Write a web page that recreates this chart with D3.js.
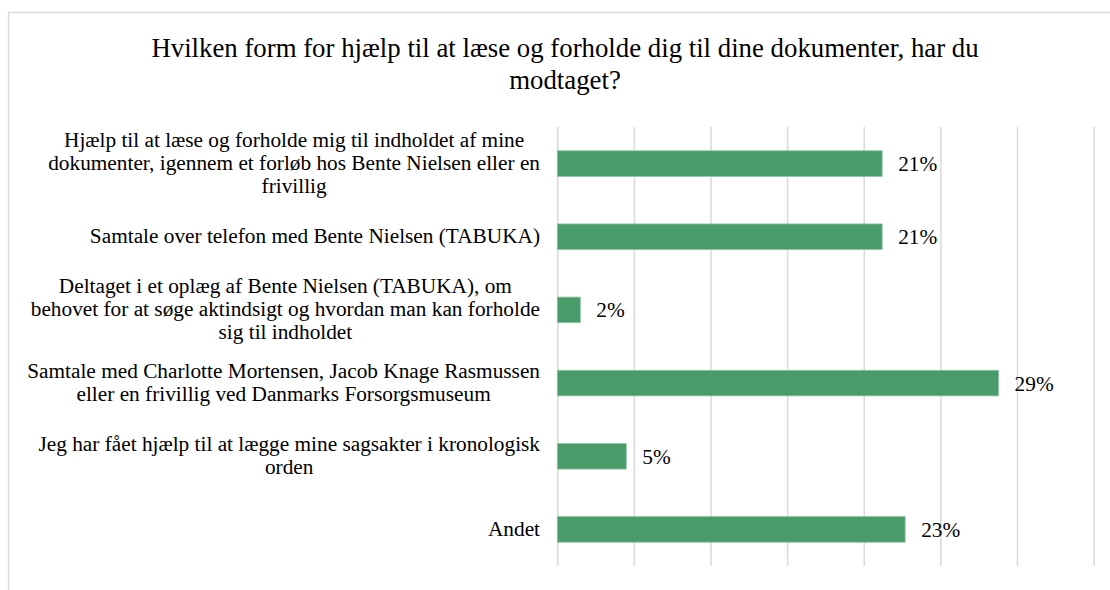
<!DOCTYPE html>
<html>
<head>
<meta charset="utf-8">
<script src="https://cdn.jsdelivr.net/npm/d3@7"></script>
<style>
  body { margin: 0; background: #fff; }
</style>
</head>
<body>
<div id="chart"></div>
<script>
// data
var titleLines = ['Hvilken form for hjælp til at læse og forholde dig til dine dokumenter, har du', 'modtaget?'];

var categories = [
  ['Hjælp til at læse og forholde mig til indholdet af mine', 'dokumenter, igennem et forløb hos Bente Nielsen eller en', 'frivillig'],
  ['Samtale over telefon med Bente Nielsen (TABUKA)'],
  ['Deltaget i et oplæg af Bente Nielsen (TABUKA), om', 'behovet for at søge aktindsigt og hvordan man kan forholde', 'sig til indholdet'],
  ['Samtale med Charlotte Mortensen, Jacob Knage Rasmussen', 'eller en frivillig ved Danmarks Forsorgsmuseum'],
  ['Jeg har fået hjælp til at lægge mine sagsakter i kronologisk', 'orden'],
  ['Andet']
];

var values = [21.2, 21.2, 1.5, 28.8, 4.5, 22.7];

var xTicks = [0, 5, 10, 15, 20, 25, 30, 35];

// layout
var attrs = {
  svgWidth: 1110,
  svgHeight: 590,
  plotLeft: 557.3,
  plotRight: 1093.6,
  plotTop: 127,
  plotBottom: 566,
  labelRight: 540,
  barColor: '#4a9b6a',
  gridColor: '#d9d9d9',
  fontFamily: '"Liberation Serif", "Times New Roman", serif',
  titleSize: 26.8,
  fontSize: 21.3,
  lineHeight: 23
};

var svg = d3.select('#chart').append('svg')
  .attr('width', attrs.svgWidth)
  .attr('height', attrs.svgHeight);

// chart area border (only top and left edges visible)
svg.append('rect')
  .attr('x', 8.5).attr('y', 12.5)
  .attr('width', 1200).attr('height', 700)
  .attr('fill', 'none')
  .attr('stroke', attrs.gridColor)
  .attr('stroke-width', 1.3);

// scales
var x = d3.scaleLinear()
  .domain([0, 35])
  .range([attrs.plotLeft, attrs.plotRight]);

var y = d3.scaleBand()
  .domain(d3.range(categories.length))
  .range([attrs.plotTop, attrs.plotBottom])
  .paddingInner(0.65)
  .paddingOuter(0.325);

// gridlines
var axisBottom = d3.axisBottom(x)
  .tickValues(xTicks)
  .tickSize(-(attrs.plotBottom - attrs.plotTop))
  .tickFormat('');

var grid = svg.append('g')
  .attr('transform', 'translate(0,' + attrs.plotBottom + ')')
  .call(axisBottom);
grid.select('.domain').remove();
grid.selectAll('.tick line')
  .attr('stroke', attrs.gridColor)
  .attr('stroke-width', 1.5);

// title
svg.append('text')
  .attr('text-anchor', 'middle')
  .style('font-family', attrs.fontFamily)
  .style('font-size', attrs.titleSize + 'px')
  .selectAll('tspan')
  .data(titleLines)
  .enter().append('tspan')
  .attr('x', 565)
  .attr('y', function (d, i) { return 57 + i * 32; })
  .text(function (d) { return d; });

// bars
svg.append('g').selectAll('rect')
  .data(values)
  .enter().append('rect')
  .attr('x', x(0))
  .attr('y', function (d, i) { return y(i); })
  .attr('width', function (d) { return x(d) - x(0); })
  .attr('height', y.bandwidth())
  .attr('fill', attrs.barColor)
  .attr('stroke', '#8cc5a1')
  .attr('stroke-width', 0.8);

// value labels
svg.append('g').selectAll('text')
  .data(values)
  .enter().append('text')
  .attr('x', function (d) { return x(d) + 16; })
  .attr('y', function (d, i) { return y(i) + y.bandwidth() / 2; })
  .attr('dy', '0.35em')
  .style('font-family', attrs.fontFamily)
  .style('font-size', attrs.fontSize + 'px')
  .text(function (d) { return Math.round(d) + '%'; });

// category labels: block right-aligned, lines centered inside the block
var labelGroups = svg.append('g').selectAll('g')
  .data(categories)
  .enter().append('g');

labelGroups.each(function (lines, i) {
  var g = d3.select(this);
  var cy = y(i) + y.bandwidth() / 2;
  var t = g.append('text')
    .attr('text-anchor', 'middle')
    .style('font-family', attrs.fontFamily)
    .style('font-size', attrs.fontSize + 'px');
  var spans = t.selectAll('tspan')
    .data(lines)
    .enter().append('tspan')
    .attr('y', function (d, j) { return cy + (j - (lines.length - 1) / 2) * attrs.lineHeight; })
    .attr('dy', '0.3em')
    .text(function (d) { return d; });
  var maxW = d3.max(spans.nodes(), function (n) { return n.getComputedTextLength(); });
  spans.attr('x', attrs.labelRight - maxW / 2);
});
</script>
</body>
</html>
